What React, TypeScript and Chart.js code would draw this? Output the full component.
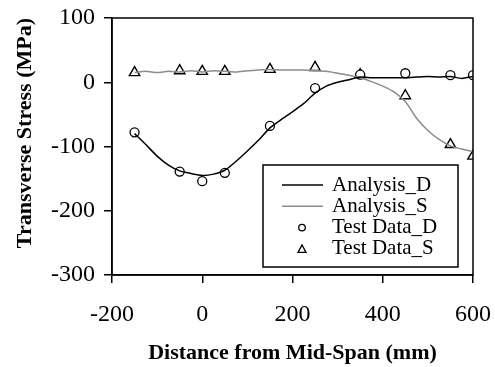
import React, { useEffect, useRef } from "react";
import { Chart, registerables } from "chart.js";

Chart.register(...registerables);

// Analysis curves (FE results), sampled along the span
const analysisX = [-150, -125, -100, -75, -50, -25, 0, 25, 50, 75, 100, 125, 150, 175, 200, 225, 250, 275, 300, 325, 350, 375, 400, 425, 450, 475, 500, 525, 550, 575, 600];
const analysisD = [-80, -97, -115, -129, -138, -142, -145, -143, -137, -123, -107, -90, -71, -58, -46, -33, -17, -6, 0, 4, 8, 7, 7, 7, 7, 8, 9, 8, 9, 6, 9];
const analysisS = [15, 17, 15, 17, 16, 18, 16, 18, 17, 16, 18, 19, 20, 19, 19, 19, 18, 17, 14, 11, 7, 1, -6, -15, -30, -56, -75, -89, -99, -104, -108];

// Test data
const testX = [-150, -50, 0, 50, 150, 250, 350, 450, 550, 600];
const testD = [-78, -139, -154, -141, -68, -9, 12, 14, 11, 11];
const testS = [15, 18, 17, 17, 20, 23, 12, -21, -97, -115];

const xTicks = [-200, 0, 200, 400, 600];
const yTicks = [-300, -200, -100, 0, 100];

const FONT = '"Liberation Serif", "Times New Roman", serif';

const zip = (xs: number[], ys: number[]) => xs.map((x, i) => ({ x, y: ys[i] }));

const framePlugin = {
  id: "frameAndLegend",
  afterDraw(chart: any) {
    const { ctx, chartArea } = chart;
    const { left, top, right, bottom } = chartArea;
    ctx.save();
    ctx.strokeStyle = "#000";
    ctx.lineWidth = 1.5;
    ctx.strokeRect(left, top, right - left, bottom - top);

    // legend box
    const bw = 195;
    const bh = 102;
    const bx = right - 15 - bw;
    const by = bottom - 8 - bh;
    ctx.fillStyle = "#fff";
    ctx.fillRect(bx, by, bw, bh);
    ctx.lineWidth = 1.5;
    ctx.strokeStyle = "#000";
    ctx.strokeRect(bx, by, bw, bh);

    ctx.font = `21px ${FONT}`;
    ctx.textBaseline = "middle";
    ctx.textAlign = "left";
    chart.data.datasets.forEach((ds: any, i: number) => {
      const cy = by + 20 + i * 21.3;
      const mx = bx + 39;
      if (ds.showLine) {
        ctx.beginPath();
        ctx.strokeStyle = ds.borderColor;
        ctx.lineWidth = ds.borderWidth;
        ctx.moveTo(bx + 19, cy);
        ctx.lineTo(bx + 60, cy);
        ctx.stroke();
      } else if (ds.pointStyle === "circle") {
        ctx.beginPath();
        ctx.strokeStyle = "#000";
        ctx.lineWidth = 1.3;
        ctx.arc(mx, cy, 3.3, 0, Math.PI * 2);
        ctx.stroke();
      } else {
        ctx.beginPath();
        ctx.strokeStyle = "#000";
        ctx.lineWidth = 1.3;
        ctx.moveTo(mx, cy - 4);
        ctx.lineTo(mx + 4, cy + 3.5);
        ctx.lineTo(mx - 4, cy + 3.5);
        ctx.closePath();
        ctx.stroke();
      }
      ctx.fillStyle = "#000";
      ctx.fillText(ds.label, bx + 69, cy);
    });
    ctx.restore();
  },
};

export default function App() {
  const ref = useRef<HTMLCanvasElement | null>(null);
  useEffect(() => {
    document.body.style.margin = "0";
    if (!ref.current) return;
    const chart = new Chart(ref.current, {
      type: "scatter",
      data: {
        datasets: [
          {
            label: "Analysis_D",
            data: zip(analysisX, analysisD),
            showLine: true,
            borderColor: "#000",
            borderWidth: 1.5,
            pointRadius: 0,
            tension: 0.2,
          },
          {
            label: "Analysis_S",
            data: zip(analysisX, analysisS),
            showLine: true,
            borderColor: "#8c8c8c",
            borderWidth: 1.5,
            pointRadius: 0,
            tension: 0.2,
          },
          {
            label: "Test Data_D",
            data: zip(testX, testD),
            showLine: false,
            pointStyle: "circle",
            pointRadius: 4.5,
            borderColor: "#000",
            borderWidth: 1.3,
            backgroundColor: "#fff",
          },
          {
            label: "Test Data_S",
            data: zip(testX, testS),
            showLine: false,
            pointStyle: "triangle",
            pointRadius: 6,
            borderColor: "#000",
            borderWidth: 1.4,
            backgroundColor: "#fff",
          },
        ] as any,
      },
      options: {
        responsive: false,
        animation: false,
        layout: { padding: { top: 18, right: 22, left: 0, bottom: 0 } },
        plugins: { legend: { display: false }, tooltip: { enabled: false } },
        scales: {
          x: {
            type: "linear",
            min: xTicks[0],
            max: xTicks[xTicks.length - 1],
            afterFit: (s: any) => {
              s.height = 92;
              s.paddingLeft = 0;
              s.paddingRight = 0;
            },
            afterBuildTicks: (s: any) => {
              s.ticks = xTicks.map((v) => ({ value: v }));
            },
            ticks: { color: "#000", font: { family: FONT, size: 24 }, padding: 17, maxRotation: 0 },
            grid: { drawOnChartArea: false, drawTicks: true, tickLength: 8, color: "#000", lineWidth: 1.5 },
            border: { color: "#000", width: 1.5 },
            title: {
              display: true,
              text: "Distance from Mid-Span (mm)",
              color: "#000",
              font: { family: FONT, size: 22, weight: "bold" },
              padding: { top: 0, bottom: 0 },
            },
          },
          y: {
            type: "linear",
            min: yTicks[0],
            max: yTicks[yTicks.length - 1],
            afterFit: (s: any) => {
              s.width = 112;
              s.paddingTop = 0;
              s.paddingBottom = 0;
            },
            afterBuildTicks: (s: any) => {
              s.ticks = yTicks.map((v) => ({ value: v }));
            },
            ticks: { color: "#000", font: { family: FONT, size: 24 }, padding: 9 },
            grid: { drawOnChartArea: false, drawTicks: true, tickLength: 8, color: "#000", lineWidth: 1.5 },
            border: { color: "#000", width: 1.5 },
            title: {
              display: true,
              text: "Transverse Stress (MPa)",
              align: "end",
              color: "#000",
              font: { family: FONT, size: 22, weight: "bold" },
              padding: { top: 12, bottom: 0 },
            },
          },
        },
      } as any,
      plugins: [framePlugin],
    });
    return () => chart.destroy();
  }, []);
  return <canvas ref={ref} width={495} height={367} style={{ display: "block", width: 495, height: 367 }} />;
}
